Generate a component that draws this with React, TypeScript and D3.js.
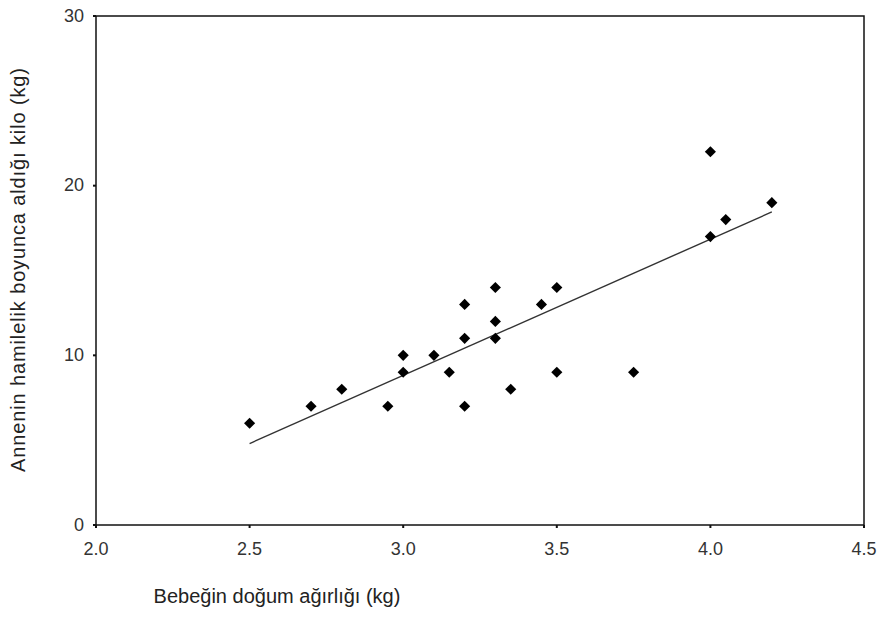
import React, { useEffect, useRef } from 'react';
import * as d3 from 'd3';

// doğum ağırlığı (kg) ve annenin aldığı kilo (kg)
const birthWeight = [2.5, 2.7, 2.8, 2.95, 3.0, 3.0, 3.1, 3.15, 3.2, 3.2, 3.2, 3.3, 3.3, 3.3, 3.35, 3.45, 3.5, 3.5, 3.75, 4.0, 4.0, 4.05, 4.2];
const weightGain = [6, 7, 8, 7, 9, 10, 10, 9, 7, 11, 13, 14, 12, 11, 8, 13, 14, 9, 9, 22, 17, 18, 19];
const xTicks = [2.0, 2.5, 3.0, 3.5, 4.0, 4.5];
const yTicks = [0, 10, 20, 30];

const App = () => {
  const svgRef = useRef<SVGSVGElement>(null);

  useEffect(() => {
    const svg = d3.select(svgRef.current);
    svg.selectAll('*').remove();

    const margin = { top: 16, right: 14, bottom: 92, left: 96 };
    const W = 878, H = 617;
    const width = W - margin.left - margin.right;
    const height = H - margin.top - margin.bottom;

    const x = d3.scaleLinear().domain([2.0, 4.5]).range([margin.left, margin.left + width]);
    const y = d3.scaleLinear().domain([0, 30]).range([margin.top + height, margin.top]);

    const font = 'Liberation Sans, Arial, sans-serif';

    // frame
    svg.append('rect')
      .attr('x', margin.left).attr('y', margin.top)
      .attr('width', width).attr('height', height)
      .attr('fill', 'none').attr('stroke', '#111').attr('stroke-width', 1.5);

    // x ticks
    const xg = svg.append('g');
    xg.selectAll('line').data(xTicks).join('line')
      .attr('x1', d => x(d)).attr('x2', d => x(d))
      .attr('y1', y(0)).attr('y2', y(0) + 3)
      .attr('stroke', '#111').attr('stroke-width', 2);
    xg.selectAll('text').data(xTicks).join('text')
      .attr('x', d => x(d)).attr('y', y(0) + 30)
      .attr('text-anchor', 'middle')
      .style('font-family', font).style('font-size', '18px').style('fill', '#333')
      .text(d => d.toFixed(1));

    // y ticks
    const yg = svg.append('g');
    yg.selectAll('line').data(yTicks).join('line')
      .attr('x1', x(2.0) - 3).attr('x2', x(2.0))
      .attr('y1', d => y(d)).attr('y2', d => y(d))
      .attr('stroke', '#111').attr('stroke-width', 2);
    yg.selectAll('text').data(yTicks).join('text')
      .attr('x', x(2.0) - 12).attr('y', d => y(d) + 1)
      .attr('text-anchor', 'end')
      .attr('dominant-baseline', 'middle')
      .style('font-family', font).style('font-size', '18px').style('fill', '#333')
      .text(d => d);

    // regression line
    const data = birthWeight.map((b, i) => ({ b, g: weightGain[i] }));
    const mx = d3.mean(birthWeight)!, my = d3.mean(weightGain)!;
    const sxy = d3.sum(data, d => (d.b - mx) * (d.g - my));
    const sxx = d3.sum(data, d => (d.b - mx) ** 2);
    const slope = sxy / sxx, icpt = my - slope * mx;
    const ends = d3.extent(birthWeight) as [number, number];
    svg.append('path')
      .datum(ends)
      .attr('fill', 'none').attr('stroke', '#333').attr('stroke-width', 1.4)
      .attr('d', d3.line<number>().x(d => x(d)).y(d => y(icpt + slope * d)));

    // points: square turned 45°
    const diamond = d3.symbol().type(d3.symbolSquare).size(62);
    svg.append('g').selectAll('path').data(data).join('path')
      .attr('transform', d => `translate(${x(d.b)},${y(d.g)}) rotate(45)`)
      .attr('d', diamond)
      .attr('fill', '#000');

    svg.append('text')
      .attr('x', 277).attr('y', 603)
      .attr('text-anchor', 'middle')
      .style('font-family', font).style('font-size', '20px').style('fill', '#222')
      .text('Bebeğin doğum ağırlığı (kg)');

    svg.append('text')
      .attr('transform', `translate(25, 270) rotate(-90)`)
      .attr('text-anchor', 'middle')
      .style('font-family', font).style('font-size', '20px').style('fill', '#222')
      .attr('textLength', 404)
      .text('Annenin hamilelik boyunca aldığı kilo (kg)');
  }, []);

  return (
    <svg ref={svgRef} width={878} height={617}
      style={{ position: 'absolute', left: 0, top: 0, background: '#fff' }} />
  );
};

export default App;
